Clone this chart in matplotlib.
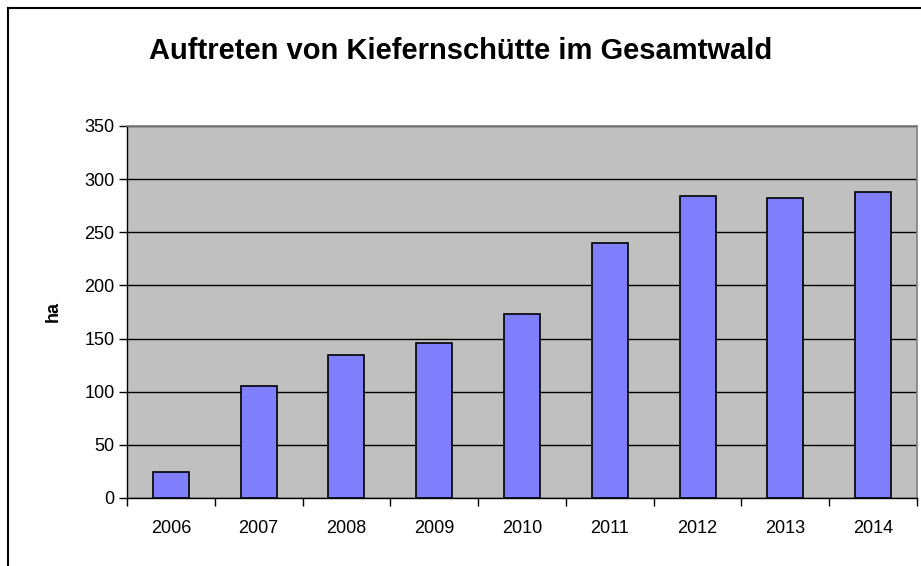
import matplotlib
matplotlib.use("Agg")
import matplotlib.pyplot as plt
from matplotlib.lines import Line2D
import numpy as np

years = ["2006", "2007", "2008", "2009", "2010", "2011", "2012", "2013", "2014"]
values = [24, 105, 135, 146, 173, 240, 284, 282, 288]
yticks = [0, 50, 100, 150, 200, 250, 300, 350]

plt.rcParams['font.family'] = ['Liberation Sans', 'DejaVu Sans']

W, H = 921, 566
fig = plt.figure(figsize=(W / 100, H / 100), dpi=100)
fig.patch.set_facecolor("white")

left, right, top, bottom = 127, 917, 126, 498
ax = fig.add_axes([left / W, 1 - bottom / H, (right - left) / W, (bottom - top) / H])
ax.set_facecolor("#C0C0C0")

x = np.arange(len(years))
ax.bar(x, values, width=0.41, color="#8080FF", edgecolor="black", linewidth=1.2, zorder=3)

ax.set_xlim(-0.5, len(years) - 0.5)
ax.set_ylim(0, 350)
ax.set_yticks(yticks)
ax.set_yticklabels([str(v) for v in yticks], fontsize=13)
ax.yaxis.grid(True, color="black", linewidth=1.0, zorder=1)
ax.set_axisbelow(True)

ax.set_xticks(x)
ax.set_xticklabels(years, fontsize=13)
ax.tick_params(axis="x", length=0, pad=16)
ax.set_xticks(np.arange(-0.5, len(years) + 0.5, 1), minor=True)
ax.tick_params(axis="x", which="minor", length=6, width=1, color="black", direction="out")
ax.tick_params(axis="y", length=6, width=1, color="black", direction="out", pad=3)

for s in ["top", "right"]:
    ax.spines[s].set_color("#808080")
    ax.spines[s].set_linewidth(1.2)
for s in ["left", "bottom"]:
    ax.spines[s].set_color("black")
    ax.spines[s].set_linewidth(1.0)

ax.set_ylabel("ha", fontsize=13, fontweight="bold", labelpad=16)

fig.text(460.5 / W, 1 - 59 / H, "Auftreten von Kiefernschütte im Gesamtwald",
         ha="center", va="baseline", fontsize=21, fontweight="bold")

# chart outer border (clipped at right and bottom)
fig.add_artist(Line2D([8 / W, 1.0], [1 - 8 / H, 1 - 8 / H], color="black", linewidth=1.5, transform=fig.transFigure))
fig.add_artist(Line2D([8 / W, 8 / W], [1 - 8 / H, 0.0], color="black", linewidth=1.5, transform=fig.transFigure))

fig.savefig("out.png", dpi=100)
